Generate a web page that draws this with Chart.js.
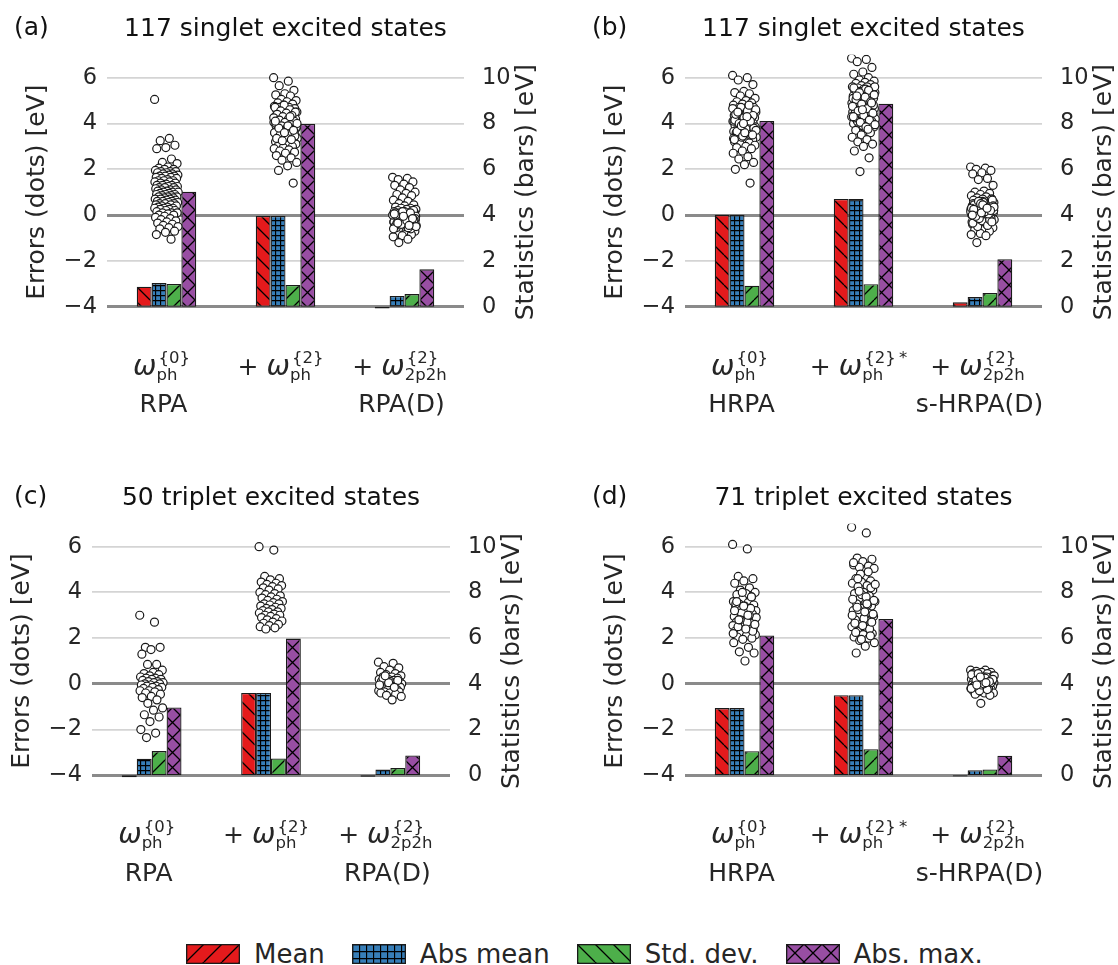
<!DOCTYPE html>
<html lang="en">
<head>
<meta charset="UTF-8">
<title>Excitation energy errors and statistics</title>
<script src="https://cdn.jsdelivr.net/npm/chart.js"></script>
<style>
  body { margin: 0; background: #fff; }
  #fig { position: relative; width: 1118px; height: 965px; font-family: 'DejaVu Sans', sans-serif; }
  #fig canvas.panel { position: absolute; }
  #legend { position: absolute; left: 186px; top: 944px; display: flex; align-items: center; color: #262626; font-size: 26px; line-height: 20px; }
  #legend .item { display: flex; align-items: center; margin-right: 27px; }
  #legend canvas { margin-right: 14px; }
</style>
</head>
<body>
<div id="fig">
  <canvas id="pa" class="panel" width="559" height="460" style="left:0;top:0"></canvas>
  <canvas id="pb" class="panel" width="559" height="460" style="left:559px;top:0"></canvas>
  <canvas id="pc" class="panel" width="559" height="460" style="left:0;top:460px"></canvas>
  <canvas id="pd" class="panel" width="559" height="460" style="left:559px;top:460px"></canvas>
  <div id="legend"></div>
</div>
<script>
// ---- data (eV) ----
const seriesNames = ['Mean', 'Abs mean', 'Std. dev.', 'Abs. max.'];
const leftTicks = [-4, -2, 0, 2, 4, 6];
const rightTicks = [0, 2, 4, 6, 8, 10];

const titleA = '117 singlet excited states';
const titleB = '117 singlet excited states';
const titleC = '50 triplet excited states';
const titleD = '71 triplet excited states';

// x tick labels: prefix, subscript, superscript, method name
const labelsRPA = [
  { pre: '', sub: 'ph', sup: '{0}', name: 'RPA' },
  { pre: '+ ', sub: 'ph', sup: '{2}', name: '' },
  { pre: '+ ', sub: '2p2h', sup: '{2}', name: 'RPA(D)' }
];
const labelsHRPA = [
  { pre: '', sub: 'ph', sup: '{0}', name: 'HRPA' },
  { pre: '+ ', sub: 'ph', sup: '{2}\u2009*', name: '' },
  { pre: '+ ', sub: '2p2h', sup: '{2}', name: 's-HRPA(D)' }
];

// bar statistics (right axis), one value per method
const meanA    = [0.87, 3.96, -0.08];
const absMeanA = [1.03, 3.96, 0.47];
const stdA     = [0.99, 0.95, 0.55];
const absMaxA  = [5.02, 7.98, 1.63];

const meanB    = [4.01, 4.70, 0.19];
const absMeanB = [4.01, 4.70, 0.42];
const stdB     = [0.92, 0.98, 0.60];
const absMaxB  = [8.11, 8.86, 2.07];

const meanC    = [-0.08, 3.60, -0.06];
const absMeanC = [0.73, 3.60, 0.25];
const stdC     = [1.06, 0.74, 0.32];
const absMaxC  = [2.97, 5.98, 0.87];

const meanD    = [2.94, 3.50, -0.05];
const absMeanD = [2.94, 3.50, 0.22];
const stdD     = [1.05, 1.14, 0.26];
const absMaxD  = [6.12, 6.84, 0.86];

// individual errors (left axis)
const errA0 = [5.05, 3.35, 3.25, 3.05, 2.95, 2.9, 2.45, 2.3, 2.25, 2.1,
  2.05, 2.0, 2.0, 1.95, 1.9, 1.9, 1.9, 1.85, 1.85, 1.8, 1.8, 1.75, 1.75, 1.7, 1.7, 1.7, 1.65, 1.65, 1.6, 1.6,
  1.55, 1.5, 1.5, 1.5, 1.45, 1.45, 1.4, 1.4, 1.35, 1.3, 1.3, 1.3, 1.25, 1.25, 1.2, 1.2, 1.2, 1.15, 1.1, 1.1, 1.1, 1.05, 1.05, 1.0, 1.0, 1.0,
  0.95, 0.95, 0.9, 0.9, 0.9, 0.85, 0.85, 0.8, 0.8, 0.8, 0.75, 0.75, 0.7, 0.7, 0.7, 0.65, 0.65, 0.6, 0.6, 0.6, 0.55, 0.55, 0.5, 0.5, 0.5,
  0.45, 0.45, 0.4, 0.4, 0.35, 0.35, 0.3, 0.3, 0.3, 0.25, 0.25, 0.2, 0.2, 0.15, 0.1, 0.1, 0.1, 0.05, 0.0, 0.0,
  -0.05, -0.1, -0.15, -0.2, -0.25, -0.3, -0.35, -0.4, -0.45, -0.5, -0.55, -0.6, -0.7, -0.75, -0.85, -1.05];
const errA1 = [6.0, 5.85, 5.65, 5.45, 5.3, 5.25, 5.2, 5.05, 5.0, 4.95,
  4.9, 4.85, 4.8, 4.75, 4.7, 4.7, 4.65, 4.6, 4.6, 4.55, 4.5, 4.5, 4.45, 4.4, 4.4, 4.35, 4.3, 4.3, 4.25, 4.2,
  4.2, 4.15, 4.1, 4.1, 4.05, 4.0, 4.0, 3.95, 3.9, 3.9, 3.85, 3.8, 3.8, 3.75, 3.7, 3.7, 3.65, 3.6, 3.6, 3.55,
  3.5, 3.5, 3.45, 3.4, 3.4, 3.35, 3.3, 3.3, 3.25, 3.2, 3.2, 3.15, 3.1, 3.1, 3.05, 3.0, 3.0, 2.95, 2.9, 2.85,
  2.8, 2.75, 2.7, 2.6, 2.5, 2.4, 2.3, 2.15, 1.95, 1.4,
  4.8, 4.7, 4.6, 4.55, 4.5, 4.45, 4.4, 4.35, 4.3, 4.25, 4.2, 4.15, 4.1, 4.05, 4.0, 3.95, 3.9, 3.85, 3.8, 3.75,
  3.7, 3.65, 3.6, 3.55, 3.5, 3.45, 3.4, 3.35, 3.3, 3.25, 4.0, 3.9, 3.8, 3.7, 3.6, 4.1, 4.3];
const errA2 = [1.65, 1.6, 1.55, 1.45, 1.35, 1.3, 1.2, 1.1, 1.0, 0.95, 0.9, 0.85, 0.75, 0.65, 0.6, 0.5, 0.45, 0.4, 0.35, 0.3,
  0.3, 0.25, 0.25, 0.2, 0.2, 0.15, 0.15, 0.1, 0.1, 0.1, 0.05, 0.05, 0.0, 0.0, 0.0, -0.05, -0.05, -0.1, -0.1, -0.1,
  -0.15, -0.15, -0.2, -0.2, -0.2, -0.25, -0.25, -0.3, -0.3, -0.3, -0.35, -0.35, -0.4, -0.4, -0.4, -0.45, -0.45, -0.5, -0.5, -0.5,
  -0.55, -0.6, -0.65, -0.7, -0.75, -0.8, -0.85, -0.9, -0.95, -1.05, -1.2,
  0.2, 0.15, 0.1, 0.05, 0.0, -0.05, -0.1, -0.15, -0.2, -0.25, -0.3, -0.35, -0.4, -0.45, -0.5, -0.55, -0.6, 0.1, 0.0, -0.1,
  -0.2, -0.3, -0.4, -0.5, 0.05, -0.05, -0.15, -0.25, -0.35, -0.45, 0.15, -0.6, -0.55, -0.3, -0.2, -0.1, 0.0, 0.1, -0.4, -0.5,
  -0.25, -0.35, -0.15, -0.05, 0.05, -0.45];

const errB0 = [6.1, 6.0, 5.9, 5.7, 5.4, 5.35, 5.3, 5.2, 5.1, 5.0,
  4.95, 4.9, 4.85, 4.8, 4.75, 4.7, 4.7, 4.65, 4.6, 4.6, 4.55, 4.5, 4.5, 4.45, 4.4, 4.4, 4.35, 4.3, 4.3, 4.25,
  4.2, 4.2, 4.15, 4.1, 4.1, 4.05, 4.0, 4.0, 3.95, 3.9, 3.9, 3.85, 3.8, 3.8, 3.75, 3.7, 3.7, 3.65, 3.6, 3.6,
  3.55, 3.5, 3.5, 3.45, 3.4, 3.4, 3.35, 3.3, 3.3, 3.25, 3.2, 3.15, 3.1, 3.05, 3.0, 2.95, 2.9, 2.8, 2.7, 2.55,
  2.45, 2.3, 2.2, 2.0, 1.4,
  4.7, 4.6, 4.5, 4.4, 4.3, 4.2, 4.1, 4.0, 3.9, 3.8, 3.7, 3.6, 3.5, 3.4, 4.65, 4.55, 4.45, 4.35, 4.25, 4.15,
  4.05, 3.95, 3.85, 3.75, 3.65, 3.55, 3.45, 3.35, 4.2, 4.0, 3.8, 3.6, 4.4, 4.1, 3.9, 3.7, 4.3, 4.5, 3.5, 4.0, 3.3, 4.8];
const errB1 = [6.85, 6.8, 6.7, 6.45, 6.25, 6.15, 6.0, 5.9, 5.85, 5.8,
  5.75, 5.7, 5.65, 5.6, 5.6, 5.55, 5.5, 5.5, 5.45, 5.4, 5.4, 5.35, 5.3, 5.3, 5.25, 5.2, 5.2, 5.15, 5.1, 5.1,
  5.05, 5.0, 5.0, 4.95, 4.9, 4.9, 4.85, 4.8, 4.8, 4.75, 4.7, 4.7, 4.65, 4.6, 4.6, 4.55, 4.5, 4.5, 4.45, 4.4,
  4.4, 4.35, 4.3, 4.3, 4.25, 4.2, 4.2, 4.15, 4.1, 4.05, 4.0, 3.95, 3.9, 3.85, 3.8, 3.7, 3.6, 3.5, 3.4, 3.3,
  3.2, 3.1, 3.0, 2.8, 2.5, 1.9,
  5.6, 5.5, 5.4, 5.3, 5.2, 5.1, 5.0, 4.9, 4.8, 4.7, 4.6, 4.5, 4.4, 4.3, 4.2, 4.1, 4.0, 3.9, 5.55, 5.45,
  5.35, 5.25, 5.15, 5.05, 4.95, 4.85, 4.75, 4.65, 4.55, 4.45, 4.35, 4.25, 4.15, 4.05, 3.95, 3.85, 5.2, 4.9, 4.6, 4.3, 3.75];
const errB2 = [2.1, 2.05, 2.0, 1.95, 1.85, 1.8, 1.6, 1.55, 1.3, 1.05, 1.0, 0.95, 0.9, 0.85,
  0.8, 0.75, 0.7, 0.7, 0.65, 0.6, 0.6, 0.55, 0.5, 0.5, 0.45, 0.45, 0.4, 0.4, 0.35, 0.35, 0.3, 0.3, 0.3, 0.25,
  0.25, 0.2, 0.2, 0.2, 0.15, 0.15, 0.1, 0.1, 0.1, 0.05, 0.05, 0.0, 0.0, 0.0, -0.05, -0.05, -0.1, -0.1, -0.15, -0.15,
  -0.2, -0.2, -0.25, -0.3, -0.3, -0.35, -0.4, -0.45, -0.5, -0.55, -0.6, -0.65, -0.7, -0.8, -0.85, -0.9, -1.2,
  0.7, 0.6, 0.5, 0.4, 0.3, 0.2, 0.1, 0.0, -0.1, -0.2, -0.3, -0.4, -0.5, 0.65, 0.55, 0.45, 0.35, 0.25, 0.15, 0.05,
  -0.05, -0.15, -0.25, -0.35, -0.45, 0.6, 0.4, 0.2, 0.0, -0.2, 0.5, 0.3, 0.1, -0.1, -0.3, 0.45, 0.25, 0.05, -0.15, 0.35,
  0.15, -0.05, 0.2, 0.1, 0.0, 0.3];

const errC0 = [3.0, 2.7, 1.6, 1.6, 1.5, 1.3, 0.85, 0.85, 0.6, 0.5, 0.45, 0.4, 0.35, 0.3, 0.25, 0.25,
  0.2, 0.2, 0.15, 0.1, 0.1, 0.05, 0.05, 0.0, 0.0, -0.05, -0.05, -0.1, -0.1, -0.15, -0.15, -0.2, -0.25, -0.3, -0.3,
  -0.35, -0.4, -0.45, -0.55, -0.6, -0.7, -0.85, -1.05, -1.15, -1.35, -1.45, -1.65, -2.0, -2.15, -2.35];
const errC1 = [6.0, 5.85, 4.7, 4.6, 4.55, 4.45, 4.4, 4.35, 4.3, 4.25, 4.2, 4.15, 4.1, 4.0, 3.95, 3.9, 3.85,
  3.8, 3.75, 3.7, 3.65, 3.6, 3.55, 3.5, 3.5, 3.45, 3.4, 3.35, 3.3, 3.3, 3.25, 3.2, 3.15, 3.15, 3.1, 3.05,
  3.0, 3.0, 2.95, 2.9, 2.85, 2.8, 2.75, 2.7, 2.65, 2.6, 2.55, 2.5, 2.45, 2.4];
const errC2 = [0.95, 0.9, 0.75, 0.7, 0.6, 0.5, 0.45, 0.4, 0.35, 0.3, 0.3, 0.25, 0.2, 0.2, 0.15, 0.15, 0.1,
  0.1, 0.1, 0.05, 0.05, 0.0, 0.0, 0.0, -0.05, -0.05, -0.1, -0.1, -0.15, -0.15, -0.2, -0.2, -0.25, -0.25,
  -0.3, -0.3, -0.35, -0.35, -0.4, -0.4, -0.45, -0.5, -0.55, -0.7, 0.25, 0.15, 0.05, -0.05, -0.15, 0.35];

const errD0 = [6.1, 5.9, 4.7, 4.6, 4.5, 4.4, 4.2, 4.1, 4.0, 3.95, 3.9, 3.8, 3.7, 3.6, 3.55, 3.5, 3.45, 3.4,
  3.35, 3.3, 3.25, 3.2, 3.15, 3.1, 3.05, 3.0, 2.95, 2.9, 2.85, 2.8, 2.75, 2.7, 2.65, 2.6, 2.55, 2.5, 2.45,
  2.4, 2.35, 2.3, 2.25, 2.2, 2.15, 2.1, 2.05, 2.0, 1.95, 1.8, 1.6, 1.4, 1.35, 1.0,
  3.5, 3.3, 3.1, 2.9, 2.7, 2.5, 2.3, 3.4, 3.2, 3.0, 2.8, 2.6, 2.4, 3.6, 3.8, 4.0, 2.2, 3.0, 2.8];
const errD1 = [6.85, 6.6, 5.5, 5.45, 5.35, 5.2, 5.15, 5.1, 5.05, 4.7, 4.6, 4.5, 4.45, 4.4, 4.3, 4.25, 4.1,
  4.0, 3.95, 3.85, 3.75, 3.6, 3.55, 3.5, 3.4, 3.3, 3.2, 3.1, 3.0, 2.95, 2.9, 2.8, 2.75, 2.6, 2.5, 2.45,
  2.3, 2.2, 2.15, 2.05, 2.0, 1.9, 1.8, 1.65, 1.35,
  4.2, 3.9, 3.7, 3.45, 3.25, 3.05, 2.85, 2.65, 2.4, 4.8, 4.35, 3.8, 3.35, 2.7, 2.55, 5.3, 4.9, 4.05, 3.65,
  3.15, 2.25, 2.1, 1.95, 3.0, 3.5, 4.6];
const errD2 = [0.6, 0.6, 0.55, 0.5, 0.5, 0.45, 0.45, 0.4, 0.35, 0.3, 0.3, 0.25, 0.2, 0.2, 0.15, 0.15, 0.1,
  0.1, 0.1, 0.05, 0.05, 0.05, 0.0, 0.0, 0.0, 0.0, -0.05, -0.05, -0.05, -0.1, -0.1, -0.1, -0.15, -0.15, -0.2,
  -0.2, -0.25, -0.25, -0.3, -0.3, -0.35, -0.35, -0.4, -0.4, -0.45, -0.5, -0.85,
  0.4, 0.3, 0.2, 0.1, 0.0, -0.1, -0.2, -0.3, 0.35, 0.25, 0.15, 0.05, -0.05, -0.15, -0.25, 0.45, 0.2, 0.0,
  -0.1, 0.1, 0.3, -0.2, 0.05, -0.05];

// ---- styling ----
const FONT = "'DejaVu Sans', sans-serif";
const barColors = ['#e41a1c', '#377eb8', '#4daf4a', '#984ea3'];
const barHatch = ['back', 'grid', 'fwd', 'cross'];
const barHatchSize = [15, 5, 15, 15];
const legendHatch = ['fwd', 'grid', 'back', 'cross'];
const legendHatchSize = [18, 7, 18, 18];

function hatch(ctx, color, kind, s) {
  const tile = document.createElement('canvas');
  tile.width = tile.height = s;
  const g = tile.getContext('2d');
  g.fillStyle = color;
  g.fillRect(0, 0, s, s);
  g.strokeStyle = '#000';
  g.lineWidth = 1.3;
  g.beginPath();
  if (kind === 'back' || kind === 'cross') {
    for (const k of [-s, 0, s]) { g.moveTo(k, 0); g.lineTo(k + s, s); }
  }
  if (kind === 'fwd' || kind === 'cross') {
    for (const k of [-s, 0, s]) { g.moveTo(k + s, 0); g.lineTo(k, s); }
  }
  if (kind === 'grid') {
    g.moveTo(0.5, 0); g.lineTo(0.5, s);
    g.moveTo(0, 0.5); g.lineTo(s, 0.5);
  }
  g.stroke();
  return ctx.createPattern(tile, 'repeat');
}

// stripplot-style horizontal spread, in category units
function spread(i) {
  return (((i * 0.6180339887) % 1) - 0.5) * 0.2;
}

function fmtTick(v) {
  return v < 0 ? '\u2212' + Math.abs(v) : String(v);
}

function drawMath(ctx, cx, cy, lab) {
  const main = '25px ' + FONT, ital = 'italic 28px ' + FONT, small = '16.5px ' + FONT;
  ctx.textAlign = 'left';
  ctx.textBaseline = 'alphabetic';
  ctx.font = main;
  const wPre = ctx.measureText(lab.pre).width;
  ctx.font = ital;
  const wOm = ctx.measureText('\u03c9').width;
  ctx.font = small;
  const wSc = Math.max(ctx.measureText(lab.sub).width, ctx.measureText(lab.sup).width + 2);
  let x = cx - (wPre + wOm + wSc) / 2;
  const bl = cy + 7.5;
  ctx.font = main;
  ctx.fillText(lab.pre, x, bl);
  x += wPre;
  ctx.font = ital;
  ctx.fillText('\u03c9', x, bl);
  x += wOm;
  ctx.font = small;
  ctx.fillText(lab.sub, x, bl + 5);
  ctx.fillText(lab.sup, x + 2, bl - 11.5);
}

function panelText(cfg) {
  return {
    id: 'panelText',
    afterDraw(chart) {
      const { ctx, chartArea: a } = chart;
      const ys = chart.scales.y, xs = chart.scales.x;
      ctx.save();
      ctx.fillStyle = '#111';
      ctx.font = '25px ' + FONT;
      ctx.textBaseline = 'middle';
      ctx.textAlign = 'left';
      ctx.fillText(cfg.letter, cfg.letterX, a.top - 26);
      ctx.textAlign = 'center';
      ctx.fillText(cfg.title, (a.left + a.right) / 2, a.top - 25);

      ctx.fillStyle = '#262626';
      const cy = (a.top + a.bottom) / 2;
      [[a.left - 69.5, 'Errors (dots) [eV]'], [a.right + 62.5, 'Statistics (bars) [eV]']].forEach(([x, t]) => {
        ctx.save();
        ctx.translate(x, cy);
        ctx.rotate(-Math.PI / 2);
        ctx.fillText(t, 0, 0);
        ctx.restore();
      });

      const base = ys.getPixelForValue(-4);
      cfg.labels.forEach((lab, i) => {
        const cx = xs.getPixelForValue(i);
        drawMath(ctx, cx - 5, base + 60.5, lab);
        ctx.font = '25px ' + FONT;
        ctx.textAlign = 'center';
        ctx.textBaseline = 'alphabetic';
        ctx.fillText(lab.name, cx - 3, base + 105.5);
      });
      ctx.restore();
    }
  };
}

function makePanel(canvasId, cfg) {
  const canvas = document.getElementById(canvasId);
  const ctx = canvas.getContext('2d');
  const W = canvas.width, H = canvas.height;
  const datasets = [];
  cfg.dots.forEach((vals, g) => {
    datasets.push({
      type: 'scatter',
      data: vals.map((v, i) => ({ x: g + spread(i), y: v })),
      yAxisID: 'y',
      order: 0,
      pointRadius: 4,
      pointHoverRadius: 4,
      pointBorderWidth: 1.2,
      pointBackgroundColor: '#fff',
      pointBorderColor: '#1a1a1a'
    });
  });
  cfg.bars.forEach((vals, k) => {
    datasets.push({
      type: 'bar',
      label: seriesNames[k],
      data: vals.map((v, g) => ({ x: g, y: v })),
      yAxisID: 'y2',
      order: 1,
      backgroundColor: hatch(ctx, barColors[k], barHatch[k], barHatchSize[k]),
      borderColor: '#1a1a1a',
      borderWidth: 1.3,
      borderSkipped: false,
      categoryPercentage: 0.5,
      barPercentage: 1
    });
  });
  const isMain = c => c.tick && (c.tick.value === 0 || c.tick.value === -4);
  new Chart(ctx, {
    type: 'scatter',
    data: { datasets },
    options: {
      responsive: false,
      animation: false,
      devicePixelRatio: 1,
      layout: { padding: { left: 0, right: 0, top: cfg.area.top, bottom: H - cfg.area.bottom } },
      plugins: { legend: { display: false }, tooltip: { enabled: false } },
      scales: {
        x: {
          type: 'linear', display: false, min: -0.5, max: 2.5, offset: false,
          afterBuildTicks: s => { s.ticks = [0, 1, 2].map(value => ({ value })); }
        },
        y: {
          type: 'linear', position: 'left', min: -5, max: 7,
          afterBuildTicks: s => { s.ticks = leftTicks.map(value => ({ value })); },
          afterFit: s => { s.width = cfg.area.left; },
          ticks: { font: { family: FONT, size: 22.5 }, color: '#262626', padding: 10, callback: fmtTick },
          grid: {
            drawTicks: false,
            color: c => isMain(c) ? '#8a8a8a' : '#d4d4d4',
            lineWidth: c => isMain(c) ? 3 : 1.8
          },
          border: { display: false }
        },
        y2: {
          type: 'linear', position: 'right', min: -1, max: 11,
          afterBuildTicks: s => { s.ticks = rightTicks.map(value => ({ value })); },
          afterFit: s => { s.width = W - cfg.area.right; },
          ticks: { font: { family: FONT, size: 22.5 }, color: '#262626', padding: 10, callback: fmtTick },
          grid: { display: false },
          border: { display: false }
        }
      }
    },
    plugins: [panelText(cfg)]
  });
}

makePanel('pa', {
  letter: '(a)', letterX: 14, title: titleA, labels: labelsRPA,
  area: { left: 107, right: 464, top: 54.8, bottom: 329.6 },
  dots: [errA0, errA1, errA2], bars: [meanA, absMeanA, stdA, absMaxA]
});
makePanel('pb', {
  letter: '(b)', letterX: 33, title: titleB, labels: labelsHRPA,
  area: { left: 126, right: 483, top: 54.8, bottom: 329.6 },
  dots: [errB0, errB1, errB2], bars: [meanB, absMeanB, stdB, absMaxB]
});
makePanel('pc', {
  letter: '(c)', letterX: 14, title: titleC, labels: labelsRPA,
  area: { left: 92, right: 450, top: 63.8, bottom: 338.2 },
  dots: [errC0, errC1, errC2], bars: [meanC, absMeanC, stdC, absMaxC]
});
makePanel('pd', {
  letter: '(d)', letterX: 33, title: titleD, labels: labelsHRPA,
  area: { left: 126, right: 483, top: 63.8, bottom: 338.2 },
  dots: [errD0, errD1, errD2], bars: [meanD, absMeanD, stdD, absMaxD]
});

// legend
const legend = document.getElementById('legend');
seriesNames.forEach((name, k) => {
  const item = document.createElement('div');
  item.className = 'item';
  const sw = document.createElement('canvas');
  sw.width = 54; sw.height = 20;
  const g = sw.getContext('2d');
  g.fillStyle = hatch(g, barColors[k], legendHatch[k], legendHatchSize[k]);
  g.fillRect(0, 0, 54, 20);
  g.strokeStyle = '#1a1a1a';
  g.lineWidth = 1.3;
  g.strokeRect(0.65, 0.65, 52.7, 18.7);
  const label = document.createElement('span');
  label.textContent = name;
  item.appendChild(sw);
  item.appendChild(label);
  legend.appendChild(item);
});
</script>
</body>
</html>
